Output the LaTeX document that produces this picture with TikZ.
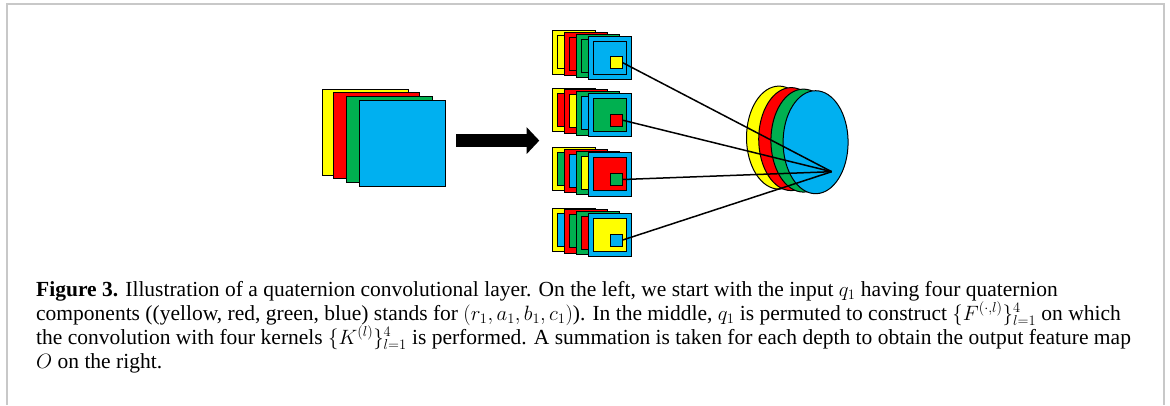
\documentclass[tikz,border=0pt]{standalone}
\usepackage{fontspec}
\setmainfont{Liberation Serif}
\usetikzlibrary{arrows.meta,shapes.geometric}
\definecolor{qy}{RGB}{255,255,0}
\definecolor{qr}{RGB}{255,0,0}
\definecolor{qg}{RGB}{0,176,80}
\definecolor{qb}{RGB}{0,176,240}
\definecolor{framegray}{RGB}{200,200,200}
\tikzset{
  sq/.style={draw=black, line width=1pt, minimum width=#1, minimum height=#1,
             inner sep=0pt, outer sep=0pt, anchor=north west},
  disc/.style={ellipse, draw=black, line width=1pt, minimum width=65pt,
               minimum height=103pt, inner sep=0pt, outer sep=0pt},
  conn/.style={draw=black, line width=1.5pt},
  bigarrow/.style={line width=13.3pt, -{Triangle[length=12.6pt,width=26pt]}},
  captext/.style={anchor=base west, inner sep=0pt, font=\fontsize{21.5}{24}\selectfont}
}
% #1 name, #2 top of front square, #3..#6 inner colours (back to front), #7 small square colour
\newcommand\kstack[7]{%
  \node[sq=43.3pt, fill=qy] (#1y) at (552.6,{#2-5.3}) {};
  \node[sq=33pt, fill=#3] (#1yi) at ([shift={(5,5)}]#1y.north west) {};
  \node[sq=43.3pt, fill=qr] (#1r) at (564.5,{#2-3.55}) {};
  \node[sq=33pt, fill=#4] (#1ri) at ([shift={(5,5)}]#1r.north west) {};
  \node[sq=43.3pt, fill=qg] (#1g) at (576.4,{#2-1.8}) {};
  \node[sq=33pt, fill=#5] (#1gi) at ([shift={(5,5)}]#1g.north west) {};
  \node[sq=43.3pt, fill=qb] (#1b) at (588.3,#2) {};
  \node[sq=33pt, fill=#6] (#1bi) at ([shift={(5,5)}]#1b.north west) {};
  \node[sq=12pt, fill=#7] (#1s) at ([shift={(22.4,20.7)}]#1b.north west) {};
}
\begin{document}
\begin{tikzpicture}[x=1pt,y=-1pt]
\useasboundingbox (0,0) rectangle (1170,405);
\draw[framegray, line width=2pt] (7,405) -- (7,4) -- (1164,4) -- (1164,405);

% input q1
\node[sq=86pt, fill=qy] (iny) at (322.3,89) {};
\node[sq=86pt, fill=qr] (inr) at (333.3,92.7) {};
\node[sq=86pt, fill=qg] (ing) at (346.7,96.7) {};
\node[sq=86pt, fill=qb] (inb) at (359.3,100.3) {};

% arrow
\coordinate (arrS) at (456,140.6);
\coordinate (arrE) at (539.3,140.6);
\draw[bigarrow] (arrS) -- (arrE);

% permuted stacks
\kstack{k1}{36}{qy}{qr}{qg}{qb}{qy}
\kstack{k2}{93.5}{qr}{qy}{qb}{qg}{qr}
\kstack{k3}{152.8}{qg}{qb}{qy}{qr}{qg}
\kstack{k4}{213.3}{qb}{qg}{qr}{qy}{qb}

% output O
\node[disc, fill=qy] (oy) at (779,137.6) {};
\node[disc, fill=qr] (or) at (791.2,139.1) {};
\node[disc, fill=qg] (og) at (803.4,140.6) {};
\node[disc, fill=qb] (ob) at (815.6,142.2) {};
\coordinate (O) at (831.7,171.7);

\draw[conn] (k1s.east) -- (O);
\draw[conn] (k2s.east) -- (O);
\draw[conn] (k3s.east) -- (O);
\draw[conn] (k4s.east) -- (O);

% caption
\node[captext] (c1) at (36,296) {\textbf{Figure 3.} Illustration of a quaternion convolutional layer. On the left, we start with the input $q_1$ having four quaternion};
\node[captext] (c2) at (36,320) {components ((yellow, red, green, blue) stands for $(r_1, a_1, b_1, c_1)$). In the middle, $q_1$ is permuted to construct $\{F^{(\cdot,l)}\}_{l=1}^4$ on which};
\node[captext] (c3) at (36,344) {the convolution with four kernels $\{K^{(l)}\}_{l=1}^4$ is performed. A summation is taken for each depth to obtain the output feature map};
\node[captext] (c4) at (36,368) {$O$ on the right.};
\end{tikzpicture}
\end{document}
